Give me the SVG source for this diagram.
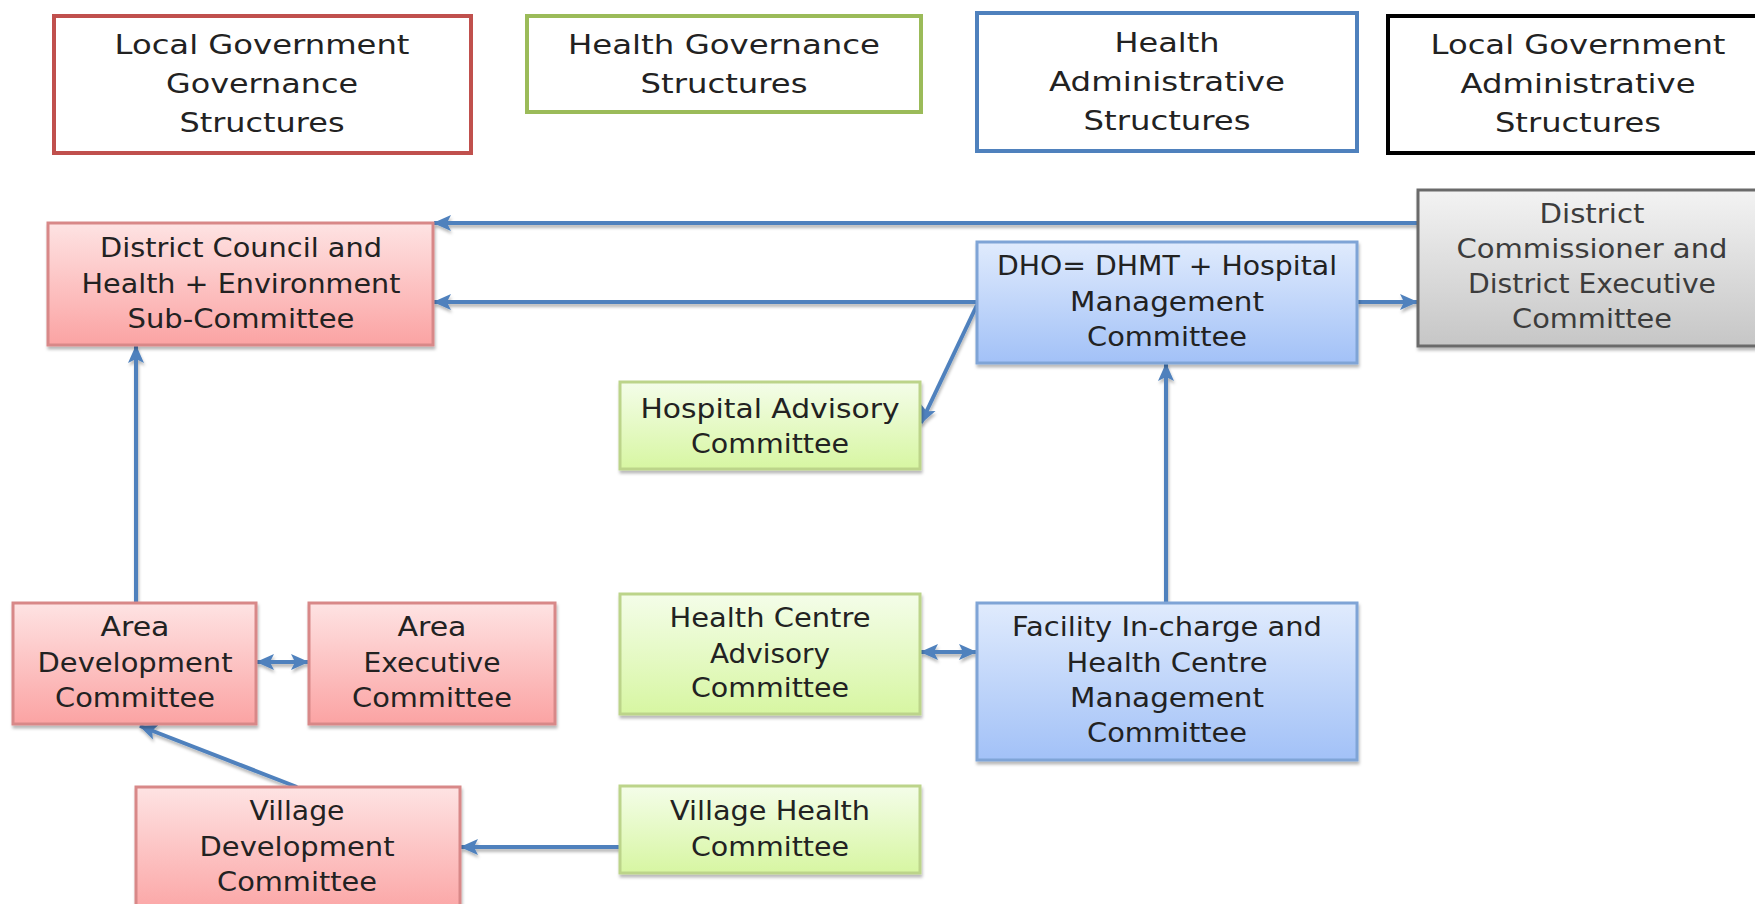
<svg xmlns="http://www.w3.org/2000/svg" width="1755" height="904" viewBox="0 0 1755 904">
  <defs>
    <linearGradient id="gRed" x1="0" y1="0" x2="0" y2="1">
      <stop offset="0" stop-color="#fee3e3"/>
      <stop offset="1" stop-color="#fba3a3"/>
    </linearGradient>
    <linearGradient id="gGreen" x1="0" y1="0" x2="0" y2="1">
      <stop offset="0" stop-color="#f4fde9"/>
      <stop offset="1" stop-color="#d7f6a2"/>
    </linearGradient>
    <linearGradient id="gBlue" x1="0" y1="0" x2="0" y2="1">
      <stop offset="0" stop-color="#e0ebfd"/>
      <stop offset="1" stop-color="#a2c1f7"/>
    </linearGradient>
    <linearGradient id="gGray" x1="0" y1="0" x2="0" y2="1">
      <stop offset="0" stop-color="#f3f3f3"/>
      <stop offset="1" stop-color="#c6c6c6"/>
    </linearGradient>
    <filter id="shadow" x="-10%" y="-10%" width="120%" height="130%">
      <feDropShadow dx="1" dy="3" stdDeviation="1.5" flood-color="#000" flood-opacity="0.28"/>
    </filter>
    <marker id="arrow" viewBox="0 0 18 18" markerWidth="18" markerHeight="18" refX="17" refY="9" orient="auto-start-reverse" markerUnits="userSpaceOnUse">
      <path d="M0,1 L18,9 L0,17 L4,9 z" fill="#4f81bd"/>
    </marker>
    <style>
      text { font-family: "DejaVu Sans", "Liberation Sans", sans-serif; font-size: 26px; fill: #222222; text-anchor: middle; }
      .legend rect { fill: #ffffff; stroke-width: 4; }
      .red { fill: url(#gRed); stroke: #d88888; stroke-width: 3; filter: url(#shadow); }
      .green { fill: url(#gGreen); stroke: #bcd48a; stroke-width: 3; filter: url(#shadow); }
      .blue { fill: url(#gBlue); stroke: #7fa4d6; stroke-width: 3; filter: url(#shadow); }
      .gray { fill: url(#gGray); stroke: #6a6a6a; stroke-width: 3; filter: url(#shadow); }
      .gray-text { fill: #3c3c3c; }
      #connectors { filter: url(#shadow); }
      #connectors line { stroke: #4f81bd; stroke-width: 4; fill: none; }
    </style>
  </defs>

  <rect width="1755" height="904" fill="#ffffff"/>

  <!-- Legend -->
  <g id="legend-lg-governance" class="legend">
    <rect x="54" y="16" width="417" height="137" stroke="#c0504d"/>
    <text x="262" y="54" textLength="295" lengthAdjust="spacingAndGlyphs">Local Government</text>
    <text x="262" y="93" textLength="192" lengthAdjust="spacingAndGlyphs">Governance</text>
    <text x="262" y="132" textLength="165" lengthAdjust="spacingAndGlyphs">Structures</text>
  </g>
  <g id="legend-health-governance" class="legend">
    <rect x="527" y="16" width="394" height="96" stroke="#9bbb59"/>
    <text x="724" y="54" textLength="312" lengthAdjust="spacingAndGlyphs">Health Governance</text>
    <text x="724" y="93" textLength="167" lengthAdjust="spacingAndGlyphs">Structures</text>
  </g>
  <g id="legend-health-admin" class="legend">
    <rect x="977" y="13" width="380" height="138" stroke="#4f81bd"/>
    <text x="1167" y="52" textLength="105" lengthAdjust="spacingAndGlyphs">Health</text>
    <text x="1167" y="91" textLength="236" lengthAdjust="spacingAndGlyphs">Administrative</text>
    <text x="1167" y="130" textLength="167" lengthAdjust="spacingAndGlyphs">Structures</text>
  </g>
  <g id="legend-lg-admin" class="legend">
    <rect x="1388" y="16" width="380" height="137" stroke="#000000"/>
    <text x="1578" y="54" textLength="295" lengthAdjust="spacingAndGlyphs">Local Government</text>
    <text x="1578" y="93" textLength="235" lengthAdjust="spacingAndGlyphs">Administrative</text>
    <text x="1578" y="132" textLength="166" lengthAdjust="spacingAndGlyphs">Structures</text>
  </g>

  <!-- Connectors -->
  <g id="connectors">
    <line x1="1418" y1="223" x2="434" y2="223" marker-end="url(#arrow)"/>
    <line x1="977" y1="302" x2="434" y2="302" marker-end="url(#arrow)"/>
    <line x1="1357" y1="302" x2="1417" y2="302" marker-end="url(#arrow)"/>
    <line x1="977" y1="305" x2="921" y2="423" marker-end="url(#arrow)"/>
    <line x1="1166" y1="603" x2="1166" y2="364" marker-end="url(#arrow)"/>
    <line x1="136" y1="603" x2="136" y2="346" marker-end="url(#arrow)"/>
    <line x1="257" y1="662" x2="308" y2="662" marker-start="url(#arrow)" marker-end="url(#arrow)"/>
    <line x1="921" y1="652" x2="976" y2="652" marker-start="url(#arrow)" marker-end="url(#arrow)"/>
    <line x1="297" y1="787" x2="140" y2="726" marker-end="url(#arrow)"/>
    <line x1="620" y1="847" x2="461" y2="847" marker-end="url(#arrow)"/>
  </g>

  <!-- Nodes -->
  <g id="district-council">
    <rect class="red" x="48" y="223" width="385" height="122"/>
    <text x="241" y="257" textLength="282" lengthAdjust="spacingAndGlyphs">District Council and</text>
    <text x="241" y="293" textLength="319" lengthAdjust="spacingAndGlyphs">Health + Environment</text>
    <text x="241" y="328" textLength="227" lengthAdjust="spacingAndGlyphs">Sub-Committee</text>
  </g>
  <g id="district-commissioner">
    <rect class="gray" x="1418" y="190" width="360" height="156"/>
    <text class="gray-text" x="1592" y="223" textLength="105" lengthAdjust="spacingAndGlyphs">District</text>
    <text class="gray-text" x="1592" y="258" textLength="271" lengthAdjust="spacingAndGlyphs">Commissioner and</text>
    <text class="gray-text" x="1592" y="293" textLength="248" lengthAdjust="spacingAndGlyphs">District Executive</text>
    <text class="gray-text" x="1592" y="328" textLength="160" lengthAdjust="spacingAndGlyphs">Committee</text>
  </g>
  <g id="dho">
    <rect class="blue" x="977" y="242" width="380" height="121"/>
    <text x="1167" y="275" textLength="340" lengthAdjust="spacingAndGlyphs">DHO= DHMT + Hospital</text>
    <text x="1167" y="311" textLength="194" lengthAdjust="spacingAndGlyphs">Management</text>
    <text x="1167" y="346" textLength="160" lengthAdjust="spacingAndGlyphs">Committee</text>
  </g>
  <g id="hospital-advisory">
    <rect class="green" x="620" y="382" width="300" height="87"/>
    <text x="770" y="418" textLength="259" lengthAdjust="spacingAndGlyphs">Hospital Advisory</text>
    <text x="770" y="453" textLength="158" lengthAdjust="spacingAndGlyphs">Committee</text>
  </g>
  <g id="area-development">
    <rect class="red" x="13" y="603" width="243" height="121"/>
    <text x="135" y="636" textLength="69" lengthAdjust="spacingAndGlyphs">Area</text>
    <text x="135" y="672" textLength="195" lengthAdjust="spacingAndGlyphs">Development</text>
    <text x="135" y="707" textLength="160" lengthAdjust="spacingAndGlyphs">Committee</text>
  </g>
  <g id="area-executive">
    <rect class="red" x="309" y="603" width="246" height="121"/>
    <text x="432" y="636" textLength="69" lengthAdjust="spacingAndGlyphs">Area</text>
    <text x="432" y="672" textLength="137" lengthAdjust="spacingAndGlyphs">Executive</text>
    <text x="432" y="707" textLength="160" lengthAdjust="spacingAndGlyphs">Committee</text>
  </g>
  <g id="health-centre-advisory">
    <rect class="green" x="620" y="594" width="300" height="120"/>
    <text x="770" y="627" textLength="201" lengthAdjust="spacingAndGlyphs">Health Centre</text>
    <text x="770" y="663" textLength="120" lengthAdjust="spacingAndGlyphs">Advisory</text>
    <text x="770" y="697" textLength="158" lengthAdjust="spacingAndGlyphs">Committee</text>
  </g>
  <g id="facility-in-charge">
    <rect class="blue" x="977" y="603" width="380" height="157"/>
    <text x="1167" y="636" textLength="310" lengthAdjust="spacingAndGlyphs">Facility In-charge and</text>
    <text x="1167" y="672" textLength="201" lengthAdjust="spacingAndGlyphs">Health Centre</text>
    <text x="1167" y="707" textLength="194" lengthAdjust="spacingAndGlyphs">Management</text>
    <text x="1167" y="742" textLength="160" lengthAdjust="spacingAndGlyphs">Committee</text>
  </g>
  <g id="village-development">
    <rect class="red" x="136" y="787" width="324" height="130"/>
    <text x="297" y="820" textLength="95" lengthAdjust="spacingAndGlyphs">Village</text>
    <text x="297" y="856" textLength="195" lengthAdjust="spacingAndGlyphs">Development</text>
    <text x="297" y="891" textLength="160" lengthAdjust="spacingAndGlyphs">Committee</text>
  </g>
  <g id="village-health">
    <rect class="green" x="620" y="786" width="300" height="87"/>
    <text x="770" y="820" textLength="200" lengthAdjust="spacingAndGlyphs">Village Health</text>
    <text x="770" y="856" textLength="158" lengthAdjust="spacingAndGlyphs">Committee</text>
  </g>
</svg>
